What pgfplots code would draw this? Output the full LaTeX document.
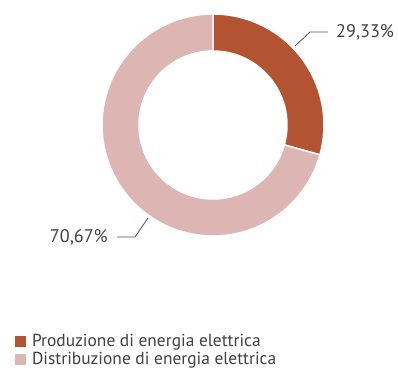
\documentclass[border=0pt]{standalone}
\usepackage{fontspec}
\setmainfont{PT Sans}
\usepackage{pgfplots}
\usepackage{pgfplotstable}
\pgfplotsset{compat=1.18}

\definecolor{prodcol}{HTML}{B35332}
\definecolor{distcol}{HTML}{DDB5B3}
\definecolor{txtcol}{HTML}{404040}
\definecolor{leadcol}{HTML}{505050}

\pgfplotstableread[col sep=comma]{
name,value
Produzione di energia elettrica,29.33
Distribuzione di energia elettrica,70.67
}\shares

\begin{document}
\begin{tikzpicture}
  % slice angles, clockwise from the top
  \pgfplotstablegetelem{0}{value}\of\shares
  \pgfmathsetmacro\angA{90-3.6*\pgfplotsretval}
  \def\rOut{111pt}
  \def\rIn{74pt}
  \begin{axis}[
    x=1pt, y=1pt,
    xmin=0, xmax=398, ymin=0, ymax=370,
    y dir=reverse,
    hide axis,
    clip=false,
    legend style={
      at={(axis cs:13,332)}, anchor=north west,
      draw=none, fill=none,
      font=\fontsize{17.4}{19}\selectfont\color{txtcol},
      cells={anchor=west},
      row sep=0.5pt,
      inner xsep=2pt, inner ysep=0pt,
      /tikz/every odd column/.append style={column sep=4.5pt},
    },
  ]
    \addlegendimage{legend image code/.code={\fill[prodcol] (0pt,-5pt) rectangle (10pt,5pt);}}
    \addlegendentry{Produzione di energia elettrica}
    \addlegendimage{legend image code/.code={\fill[distcol] (0pt,-5pt) rectangle (10pt,5pt);}}
    \addlegendentry{Distribuzione di energia elettrica}

    \coordinate (bl) at (axis cs:0,370);
    \coordinate (tr) at (axis cs:398,0);
    \coordinate (c) at (axis cs:213,125);
    \fill[prodcol, draw=white, line width=1.5pt]
      ([shift={(90:\rOut)}]c) arc[start angle=90, end angle=\angA, radius=\rOut]
      -- ([shift={(\angA:\rIn)}]c) arc[start angle=\angA, end angle=90, radius=\rIn] -- cycle;
    \fill[distcol, draw=white, line width=1.5pt]
      ([shift={(\angA:\rOut)}]c) arc[start angle=\angA, end angle=-270, radius=\rOut]
      -- ([shift={(-270:\rIn)}]c) arc[start angle=-270, end angle=\angA, radius=\rIn] -- cycle;

    \draw[leadcol, line width=0.8pt] (axis cs:295,46) -- (axis cs:310,32) -- (axis cs:328,32);
    \node[anchor=west, text=txtcol, font=\fontsize{18.2}{19}\selectfont, inner sep=0pt]
      at (axis cs:336,32) {29,33\%};
    \draw[leadcol, line width=0.8pt] (axis cs:148,218) -- (axis cs:135,237) -- (axis cs:117,237);
    \node[anchor=east, text=txtcol, font=\fontsize{18.2}{19}\selectfont, inner sep=0pt]
      at (axis cs:108,237) {70,67\%};
  \end{axis}
  \pgfresetboundingbox
  \path (bl) rectangle (tr);
\end{tikzpicture}
\end{document}
